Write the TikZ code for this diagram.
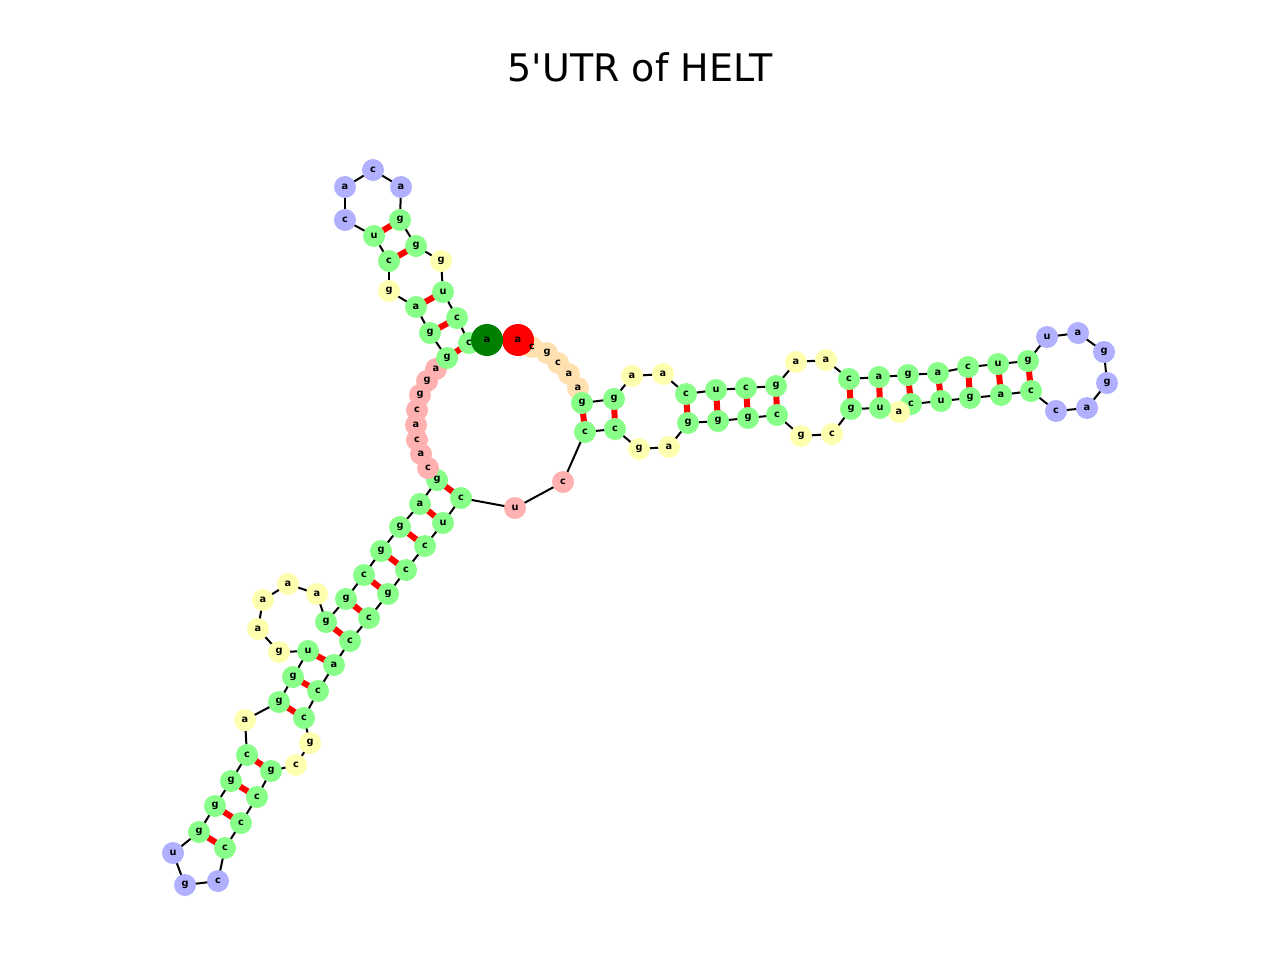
\documentclass[tikz,border=0pt]{standalone}
\usepackage{fontspec}
\setmainfont{DejaVu Sans}
\newfontfamily\titlefont{DejaVu Sans}
\begin{document}
\begin{tikzpicture}[x=0.75pt,y=-0.75pt]
\definecolor{cG}{HTML}{88FF88}
\definecolor{cY}{HTML}{FFFFB0}
\definecolor{cB}{HTML}{B0B0FF}
\definecolor{cP}{HTML}{FFB0B0}
\definecolor{cO}{HTML}{FFE0B0}
\definecolor{cR}{HTML}{FF0000}
\definecolor{cD}{HTML}{008000}
\tikzset{
  base/.style={circle,inner sep=0pt,minimum size=16.5pt,draw=none},
  bigbase/.style={circle,inner sep=0pt,minimum size=24pt,draw=none},
  lbl/.style={font=\fontsize{7.3}{8}\selectfont\bfseries,inner sep=0pt},
  backbone/.style={line width=1.5pt,black},
  pair/.style={line width=4.5pt,red}
}
\useasboundingbox (0,0) rectangle (1280,960);
\node[font=\titlefont\fontsize{28.5}{32}\selectfont] (title) at (640,67) {5'UTR of HELT};
\def\nodelist{1/518/340/a/cR,2/532/347/c/cO,3/547/353/g/cO,4/558/363/c/cO,5/569/374/a/cO,6/578/388/a/cO,7/582/403/g/cG,8/614/399/g/cG,9/632/376/a/cY,10/663/374/a/cY,11/686/394/c/cG,12/716/390/u/cG,13/746/388/c/cG,14/776/386/g/cG,15/796/362/a/cY,16/826/360/a/cY,17/849/379/c/cG,18/879/377/a/cG,19/908/375/g/cG,20/938/373/a/cG,21/968/367/c/cG,22/998/364/u/cG,23/1028/361/g/cG,24/1047/337/u/cB,25/1078/333/a/cB,26/1104/352/g/cB,27/1107/383/g/cB,28/1087/408/a/cB,29/1056/411/c/cB,30/1031/391/c/cG,31/1001/395/a/cG,32/970/398/g/cG,33/941/401/u/cG,34/911/404/c/cG,35/899/412/a/cY,36/880/408/u/cG,37/851/409/g/cG,38/832/434/c/cY,39/801/436/g/cY,40/777/415/c/cG,41/748/418/g/cG,42/718/421/g/cG,43/688/423/g/cG,44/669/447/a/cY,45/639/449/g/cY,46/615/429/c/cG,47/585/432/c/cG,48/563/482/c/cP,49/515/508/u/cP,50/461/498/c/cG,51/443/523/u/cG,52/425/546/c/cG,53/406/570/c/cG,54/388/594/g/cG,55/369/618/c/cG,56/350/641/c/cG,57/334/665/a/cG,58/318/691/c/cG,59/304/718/c/cG,60/310/743/g/cY,61/296/765/c/cY,62/271/771/g/cG,63/257/797/c/cG,64/241/823/c/cG,65/225/848/c/cG,66/218/881/c/cB,67/185/885/g/cB,68/173/853/u/cB,69/199/832/g/cG,70/215/806/g/cG,71/231/781/g/cG,72/247/755/c/cG,73/245/720/a/cY,74/279/702/g/cG,75/293/677/g/cG,76/308/651/u/cG,77/279/652/g/cY,78/258/629/a/cY,79/263/600/a/cY,80/288/584/a/cY,81/317/594/a/cY,82/326/622/g/cG,83/346/599/g/cG,84/364/575/c/cG,85/381/551/g/cG,86/400/527/g/cG,87/420/504/a/cG,88/437/480/g/cG,89/428/468/c/cP,90/421/454/a/cP,91/417/440/c/cP,92/416/425/a/cP,93/417/410/c/cP,94/420/395/g/cP,95/427/381/g/cP,96/436/369/a/cP,97/447/358/g/cG,98/430/333/g/cG,99/416/307/a/cG,100/389/291/g/cY,101/389/261/c/cG,102/374/236/u/cG,103/345/220/c/cB,104/345/187/a/cB,105/373/170/c/cB,106/401/187/a/cB,107/400/220/g/cG,108/416/246/g/cG,109/441/261/g/cY,110/443/292/u/cG,111/457/318/c/cG,112/469/343/c/cG,113/487/340/a/cD}
\foreach \i/\x/\y/\l/\c in \nodelist { \coordinate (p\i) at (\x,\y); }
\foreach \i in {1,...,112} {
  \pgfmathtruncatemacro{\j}{\i+1}
  \draw[backbone] (p\i) -- (p\j);
}
\foreach \a/\b in {7/47,8/46,11/43,12/42,13/41,14/40,17/37,18/36,19/34,20/33,21/32,22/31,23/30,88/50,87/51,86/52,85/53,84/54,83/55,82/56,76/57,75/58,74/59,72/62,71/63,70/64,69/65,97/112,98/111,99/110,101/108,102/107}
  \draw[pair] (p\a) -- (p\b);
\foreach \i/\x/\y/\l/\c in \nodelist {
  \ifnum\i=1\relax\else\ifnum\i=113\relax\else
    \node[base,fill=\c] (n\i) at (p\i) {};
  \fi\fi
}
\node[bigbase,fill=cR] (n1) at (p1) {};
\node[bigbase,fill=cD] (n113) at (p113) {};
\foreach \i/\x/\y/\l/\c in \nodelist { \node[lbl] (t\i) at (p\i) {\l}; }
\end{tikzpicture}
\end{document}
